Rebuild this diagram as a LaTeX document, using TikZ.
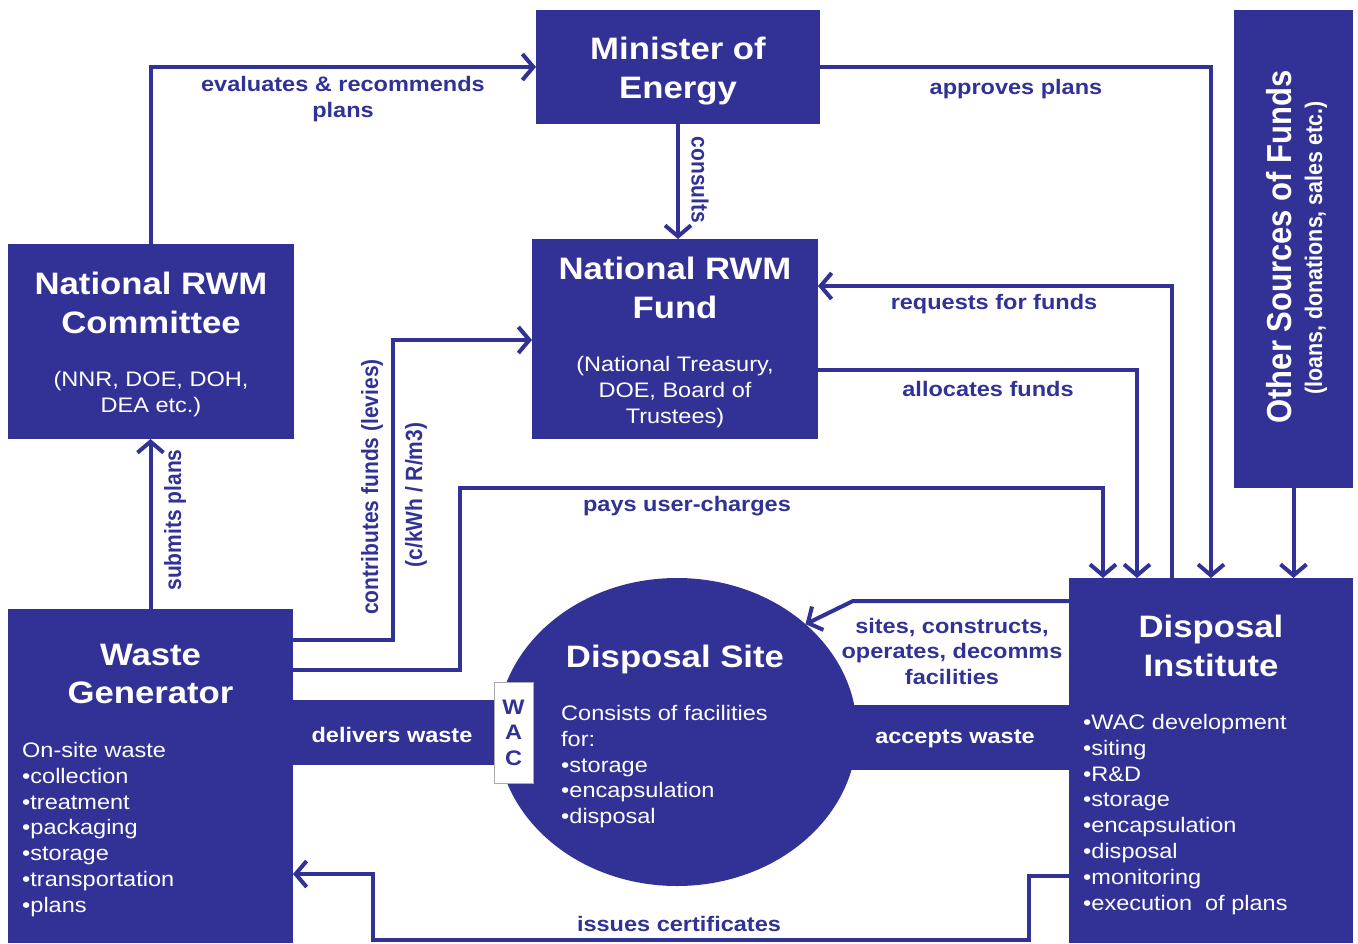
\documentclass[tikz,border=0pt]{standalone}
\usepackage{fontspec}
\setmainfont{Liberation Sans}[FakeStretch=1.12]
\newfontfamily\rotfont{Liberation Sans}[FakeStretch=0.893]
\usetikzlibrary{arrows.meta,shapes.geometric}
\definecolor{ink}{RGB}{50,50,150}
\definecolor{wacline}{RGB}{170,170,170}

\begin{document}
\begin{tikzpicture}[x=1pt,y=-1pt,
  box/.style={fill=ink, draw=none, inner sep=0pt, outer sep=0pt},
  title/.style={text=white, inner sep=0pt, align=center,
    font=\fontsize{31}{38.5}\selectfont\bfseries},
  subtxt/.style={text=white, inner sep=0pt, align=center,
    font=\fontsize{21}{26}\selectfont},
  listtxt/.style={text=white, inner sep=0pt, align=left, anchor=north west,
    font=\fontsize{21}{25.8}\selectfont},
  lbl/.style={text=ink, inner sep=0pt, align=center,
    font=\fontsize{21}{25.5}\selectfont\bfseries},
  vlbl/.style={text=ink, inner sep=0pt,
    font=\rotfont\fontsize{23.5}{28}\selectfont\bfseries},
  flow/.style={draw=ink, line width=4pt},
  arr/.style={flow, -{Straight Barb[length=11pt,width=26pt]}},
  band/.style={draw=ink, line width=65pt},
]
\useasboundingbox (0,0) rectangle (1358,943);
\fill[white] (0,0) rectangle (1358,943);

% ---- boxes ----
\node[box, minimum width=284pt, minimum height=114pt] (min) at (678,67) {};
\node[box, minimum width=286pt, minimum height=195pt] (comm) at (151,341.5) {};
\node[box, minimum width=286pt, minimum height=200pt] (fund) at (675,339) {};
\node[box, minimum width=119pt, minimum height=478pt] (other) at (1293.5,249) {};
\node[box, minimum width=285pt, minimum height=334pt] (wg) at (150.5,776) {};
\node[box, minimum width=284pt, minimum height=365pt] (di) at (1211,760.5) {};

% ---- disposal site with its delivery bands and WAC gate ----
\node[box, ellipse, minimum width=360pt, minimum height=308pt] (site) at (677,732) {};
\coordinate (wacpos) at (513.5,732.5);
\coordinate (accin) at (840,737.5);
\draw[band] (di.west |- accin) -- (accin);
\node[fill=white, draw=wacline, line width=1pt, inner sep=0pt, outer sep=0pt,
  minimum width=39pt, minimum height=101pt] (wac) at (wacpos) {};
\draw[band] (wg.east |- wac.center) -- (wac.west);

% ---- texts inside boxes ----
\node[title] (mint) at (678,71) {Minister of\\Energy};
\node[title] (commt) at (151,303) {National RWM\\Committee};
\node[subtxt] (comms) at (151,394.5) {(NNR, DOE, DOH,\\DEA etc.)};
\node[title] (fundt) at (675,288) {National RWM\\Fund};
\node[subtxt] (funds) at (675,392) {(National Treasury,\\DOE, Board of\\Trustees)};
\node[title, rotate=90, font=\rotfont\fontsize{34.7}{40}\selectfont\bfseries] (othert) at (1279,247) {Other Sources of Funds};
\node[text=white, inner sep=0pt, rotate=90, font=\rotfont\fontsize{24}{28}\selectfont\bfseries] (others) at (1316,248) {(loans, donations, sales etc.)};
\node[title] (wgt) at (150.5,674) {Waste\\Generator};
\node[listtxt] (wgl) at (22,742) {On-site waste\\•collection\\•treatment\\•packaging\\•storage\\•transportation\\•plans};
\node[title] (dit) at (1211,646) {Disposal\\Institute};
\node[listtxt] (dil) at (1083,714) {•WAC development\\•siting\\•R\&D\\•storage\\•encapsulation\\•disposal\\•monitoring\\•execution\ \ of plans};
\node[title] (sitet) at (675,659) {Disposal Site};
\node[listtxt] (sitel) at (561,705) {Consists of facilities\\for:\\•storage\\•encapsulation\\•disposal};
\node[lbl] (wact) at (wac.center) {W\\A\\C};
\node[lbl, text=white] (delt) at (392,735) {delivers waste};
\node[lbl, text=white] (acct) at (955,739) {accepts waste};

% ---- connectors ----
\draw[arr] (comm.north) |- (min.west);
\draw[arr] (min.east) -| (di.north);
\draw[arr] (min.south) -- (min.south |- fund.north);
\coordinate (rq) at (1172,578);
\coordinate (rqtop) at (1172,286);
\draw[arr] (rq) -- (rqtop) -- (fund.east |- rqtop);
\coordinate (al) at (818,370);
\coordinate (aldown) at (1137,578);
\draw[arr] (al) -| (aldown);
\draw[arr] (other.south) -- (other.south |- di.north);
\draw[arr] (wg.north) -- (wg.north |- comm.south);
\coordinate (cf1) at (293,640);
\coordinate (cf2) at (393,340);
\draw[arr] (cf1) -| (cf2) -- (fund.west |- cf2);
\coordinate (pu1) at (293,670);
\coordinate (pu2) at (460,488);
\coordinate (pu3) at (1103,578);
\draw[arr] (pu1) -| (pu2) -| (pu3);
\coordinate (sc1) at (1069,601);
\coordinate (sc2) at (853,601);
\draw[arr] (sc1) -- (sc2) -- (site.40);
\coordinate (ic1) at (1069,876);
\coordinate (ic2) at (1029,940);
\coordinate (ic3) at (373,874);
\draw[arr] (ic1) -| (ic2) -| (ic3) -- (wg.east |- ic3);

% ---- connector labels ----
\node[lbl] (evl) at (343,99) {evaluates \& recommends\\plans};
\node[lbl] (apl) at (1016,89) {approves plans};
\node[vlbl, rotate=-90] (csl) at (700,180) {consults};
\node[lbl] (rql) at (994,304) {requests for funds};
\node[lbl] (all) at (988,389) {allocates funds};
\node[lbl] (pul) at (687,506) {pays user-charges};
\node[lbl] (scl) at (952,651) {sites, constructs,\\operates, decomms\\facilities};
\node[lbl] (icl) at (679,924) {issues certificates};
\node[vlbl, rotate=90] (sbl) at (175,520) {submits plans};
\node[vlbl, rotate=90] (cfl) at (372,487) {contributes funds (levies)};
\node[vlbl, rotate=90] (cfu) at (416,495) {(c/kWh / R/m3)};
\end{tikzpicture}
\end{document}
